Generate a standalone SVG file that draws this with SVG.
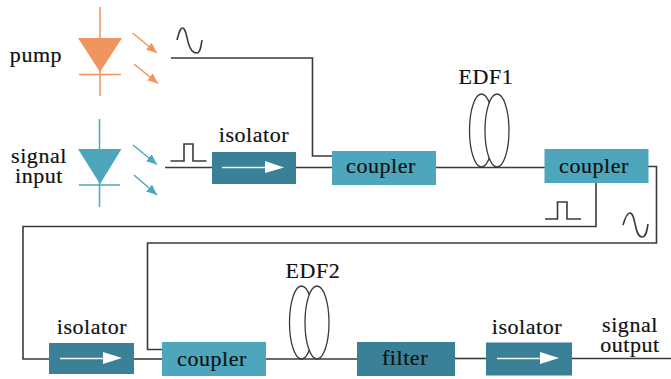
<svg xmlns="http://www.w3.org/2000/svg" width="671" height="379" viewBox="0 0 671 379">
<style>
text{font-family:"Liberation Serif","Times New Roman",serif;font-size:22px;fill:#111;stroke:#111;stroke-width:.2;text-anchor:middle;letter-spacing:.55px}
.w{fill:none;stroke:#3a3a3a;stroke-width:1.6;stroke-linejoin:miter}
.c{fill:#4da6bb}
.d{fill:#3a8197}
.o{stroke:#f0955e;fill:none;stroke-width:1.5}
.t{stroke:#4da6bb;fill:none;stroke-width:1.5}
.of{fill:#f0955e}
.tf{fill:#4da6bb}
.e{fill:none;stroke:#3a3a3a;stroke-width:1.3}
.ew{fill:#fff;stroke:#3a3a3a;stroke-width:1.3}
.s{fill:none;stroke:#3a3a3a;stroke-width:1.6}
.al{stroke:#eef6f8;stroke-width:1.3;fill:none}
.ah{fill:#fff}
</style>
<defs>
<marker id="ao" markerUnits="userSpaceOnUse" markerWidth="11" markerHeight="9" refX="10.500" refY="4.500" orient="auto"><path d="M0 0L10.500 4.500L0 9Z" class="of"/></marker>
<marker id="at" markerUnits="userSpaceOnUse" markerWidth="11" markerHeight="9" refX="10.500" refY="4.500" orient="auto"><path d="M0 0L10.500 4.500L0 9Z" class="tf"/></marker>
</defs>
<g id="connectors">
<path class="w" d="M171 58H312.500V156H332"/>
<path class="w" d="M165 167.500H212"/>
<path class="w" d="M296 167.500H332"/>
<path class="w" d="M436 167.500H545"/>
<path class="w" d="M648 166.500H656.500V243H147.500V349.500H162"/>
<path class="w" d="M596 183V226.500H23V359H49"/>
<path class="w" d="M134 359H162"/>
<path class="w" d="M266 359H357"/>
<path class="w" d="M455 358.500H486"/>
<path class="w" d="M572 358.500H671"/>
</g>
<g id="pump">
<path class="o" d="M100 7V96M79 74.500H121"/>
<path class="of" d="M78 38H122L100 72Z"/>
<path class="o" d="M132.500 33L157 53" marker-end="url(#ao)"/>
<path class="o" d="M134 64L158 83.500" marker-end="url(#ao)"/>
<text x="36" y="62">pump</text>
</g>
<g id="pump-wave"><path class="s" d="M177 40C179 33 180 28 182.500 28C188 28 186 53 197 53C200 53 201 47 202 40"/></g>
<g id="signal-input">
<path class="t" d="M99.500 119V207M79 185H120"/>
<path class="tf" d="M78 149H121.500L100 184Z"/>
<path class="t" d="M133 145L157 164.500" marker-end="url(#at)"/>
<path class="t" d="M134 175L157 195" marker-end="url(#at)"/>
<text><tspan x="39" y="163">signal</tspan><tspan x="39" y="183">input</tspan></text>
</g>
<g id="signal-pulse"><path class="w" d="M170.500 161H184V144H193V161H206.500"/></g>
<g id="isolator1">
<rect class="d" x="212" y="152" width="84" height="32"/>
<path class="al" d="M222 167.500H266"/>
<path class="ah" d="M265 161L284 167.500L265 173Z"/>
<text x="254" y="142">isolator</text>
</g>
<g id="coupler1">
<rect class="c" x="332" y="151" width="104" height="34"/>
<text x="381" y="173">coupler</text>
</g>
<g id="edf1">
<ellipse class="e" cx="481.500" cy="130.500" rx="12" ry="36.500"/>
<ellipse class="ew" cx="497" cy="130.500" rx="12" ry="36.500"/>
<text x="486" y="83.500">EDF1</text>
</g>
<g id="coupler2">
<rect class="c" x="544.500" y="149" width="104" height="34"/>
<text x="594" y="173">coupler</text>
</g>
<g id="pulse2"><path class="w" d="M545 219H557.500V202H567V219H581"/></g>
<g id="wave2"><path class="s" d="M623 225C625 218 627 213 630 213C636 213 634 237 642 237C646 237 647 231 648 224"/></g>
<g id="isolator2">
<rect class="d" x="49" y="343" width="85" height="31"/>
<path class="al" d="M60 358.500H104"/>
<path class="ah" d="M103 352L122 358L103 364Z"/>
<text x="92" y="334">isolator</text>
</g>
<g id="coupler3">
<rect class="c" x="162" y="342" width="104" height="34"/>
<text x="212" y="365.500">coupler</text>
</g>
<g id="edf2">
<ellipse class="e" cx="301.500" cy="322.500" rx="12" ry="36.500"/>
<ellipse class="ew" cx="317" cy="322.500" rx="12" ry="36.500"/>
<text x="313" y="278">EDF2</text>
</g>
<g id="filter">
<rect class="d" x="357" y="342" width="98" height="34"/>
<text x="405" y="365">filter</text>
</g>
<g id="isolator3">
<rect class="d" x="486" y="342.500" width="86" height="33"/>
<path class="al" d="M497 358.500H541"/>
<path class="ah" d="M540 352L559 358L540 364Z"/>
<text x="527" y="334">isolator</text>
</g>
<g id="signal-output">
<text><tspan x="630" y="332">signal</tspan><tspan x="630" y="352">output</tspan></text>
</g>
</svg>
